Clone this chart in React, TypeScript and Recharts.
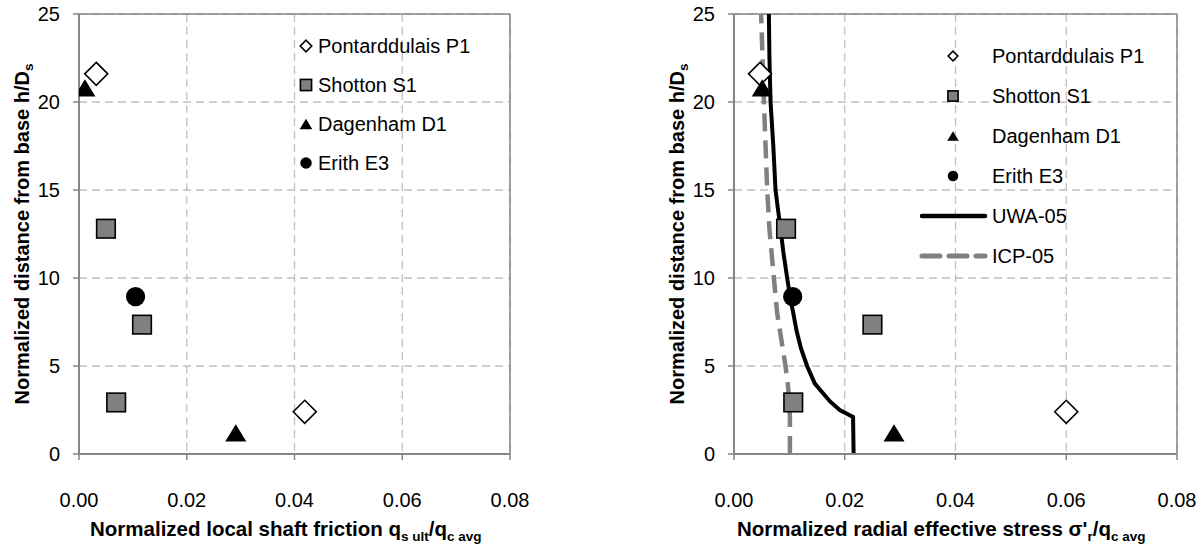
import {
  ComposedChart,
  Scatter,
  Line,
  XAxis,
  YAxis,
  CartesianGrid,
  ReferenceLine,
  Legend,
} from "recharts";

const FONT = "'Liberation Sans', Arial, sans-serif";

const xTicks = [0, 0.02, 0.04, 0.06, 0.08];
const yTicks = [0, 5, 10, 15, 20, 25];

// left panel: normalized local shaft friction
const frictionP1 = [
  { x: 0.0032, y: 21.6 },
  { x: 0.0419, y: 2.4 },
];
const frictionS1 = [
  { x: 0.005, y: 12.8 },
  { x: 0.0117, y: 7.35 },
  { x: 0.0069, y: 2.93 },
];
const frictionD1 = [
  { x: 0.0011, y: 20.8 },
  { x: 0.0291, y: 1.2 },
];
const frictionE3 = [{ x: 0.0105, y: 8.94 }];

// right panel: normalized radial effective stress
const stressP1 = [
  { x: 0.0047, y: 21.6 },
  { x: 0.06, y: 2.4 },
];
const stressS1 = [
  { x: 0.0094, y: 12.8 },
  { x: 0.025, y: 7.35 },
  { x: 0.0107, y: 2.93 },
];
const stressD1 = [
  { x: 0.0051, y: 20.8 },
  { x: 0.0289, y: 1.2 },
];
const stressE3 = [{ x: 0.0106, y: 8.94 }];

const uwa05 = [
  { x: 0.0216, y: 0 },
  { x: 0.0215, y: 2.1 },
  { x: 0.0191, y: 2.5 },
  { x: 0.0173, y: 3 },
  { x: 0.0146, y: 4 },
  { x: 0.0132, y: 5 },
  { x: 0.0121, y: 6 },
  { x: 0.0113, y: 7 },
  { x: 0.0107, y: 8 },
  { x: 0.0101, y: 9 },
  { x: 0.0096, y: 10 },
  { x: 0.0089, y: 11.5 },
  { x: 0.0084, y: 12.8 },
  { x: 0.0079, y: 14 },
  { x: 0.0075, y: 15 },
  { x: 0.0071, y: 17.5 },
  { x: 0.0066, y: 20 },
  { x: 0.0064, y: 22.5 },
  { x: 0.0063, y: 25 },
];
const icp05 = [
  { x: 0.0101, y: 0 },
  { x: 0.0101, y: 2 },
  { x: 0.01, y: 3 },
  { x: 0.0097, y: 4 },
  { x: 0.0093, y: 5 },
  { x: 0.0083, y: 7 },
  { x: 0.0078, y: 8 },
  { x: 0.0072, y: 10 },
  { x: 0.0064, y: 12.8 },
  { x: 0.006, y: 15 },
  { x: 0.0054, y: 20 },
  { x: 0.0049, y: 25 },
];

const siteNames = ["Pontarddulais P1", "Shotton S1", "Dagenham D1", "Erith E3"];
const lineNames = ["UWA-05", "ICP-05"];

const AXIS = "#868686";
const GRID = "#c0c0c0";

// marker drawing, scaled by s
function marker(kind: number, cx: number, cy: number, s: number, key?: string) {
  if (kind === 0) {
    const r = 11.5 * s;
    return (
      <path
        key={key}
        d={`M${cx},${cy - r}L${cx + r},${cy}L${cx},${cy + r}L${cx - r},${cy}Z`}
        fill="#fff"
        stroke="#000"
        strokeWidth={1.6}
      />
    );
  }
  if (kind === 1) {
    const h = 9.3 * s;
    return (
      <rect
        key={key}
        x={cx - h}
        y={cy - h}
        width={2 * h}
        height={2 * h}
        fill="#808080"
        stroke="#000"
        strokeWidth={1.6}
      />
    );
  }
  if (kind === 2) {
    const w = 10.5 * s;
    const h = 8.7 * s;
    return (
      <path
        key={key}
        d={`M${cx},${cy - h}L${cx + w},${cy + h}L${cx - w},${cy + h}Z`}
        fill="#000"
      />
    );
  }
  return <circle key={key} cx={cx} cy={cy} r={9.6 * s} fill="#000" />;
}

const shapeOf = (kind: number) => (p: any) => marker(kind, p.cx, p.cy, 1);

const tickStyle = { fontSize: 20, fill: "#000", fontFamily: FONT };

function LeftLegend() {
  return (
    <svg width={200} height={150} style={{ fontFamily: FONT }}>
      {siteNames.map((name, i) => {
        const y = 16 + i * 39;
        return (
          <g key={name}>
            {marker(i, 10, y, i === 0 ? 0.5 : 0.6)}
            <text x={22} y={y + 7} fontSize={20} fill="#000">
              {name}
            </text>
          </g>
        );
      })}
    </svg>
  );
}

function RightLegend() {
  return (
    <svg width={260} height={240} style={{ fontFamily: FONT }}>
      {siteNames.map((name, i) => {
        const y = 20 + i * 40;
        return (
          <g key={name}>
            {marker(i, 38, y, i === 0 ? 0.42 : 0.55)}
            <text x={77} y={y + 7} fontSize={20} fill="#000">
              {name}
            </text>
          </g>
        );
      })}
      {lineNames.map((name, i) => {
        const y = 180 + i * 40;
        return (
          <g key={name}>
            <line
              x1={7}
              x2={70}
              y1={y}
              y2={y}
              stroke={i === 0 ? "#000" : "#808080"}
              strokeWidth={i === 0 ? 4.5 : 5}
              strokeDasharray={i === 0 ? undefined : "18 9"}
              strokeLinecap="round"
            />
            <text x={77} y={y + 7} fontSize={20} fill="#000">
              {name}
            </text>
          </g>
        );
      })}
    </svg>
  );
}

function Panel(props: {
  width: number;
  left: number;
  yAxisWidth: number;
  sets: { x: number; y: number }[][];
  lines?: boolean;
}) {
  const { width, left, yAxisWidth, sets, lines } = props;
  return (
    <div style={{ position: "absolute", left, top: 0, width, height: 547 }}>
      <ComposedChart
        width={width}
        height={547}
        margin={{ top: 14, right: width - yAxisWidth - (lines ? 443 : 431), left: 0, bottom: 0 }}
      >
        <CartesianGrid stroke={GRID} strokeWidth={1.3} strokeDasharray="8 5" />
        <XAxis
          type="number"
          dataKey="x"
          domain={[0, 0.08]}
          ticks={xTicks}
          allowDataOverflow
          tickFormatter={(v: number) => v.toFixed(2)}
          height={93}
          tick={tickStyle}
          tickSize={6}
          tickMargin={33}
          stroke={AXIS}
          axisLine={{ stroke: AXIS, strokeWidth: 2 }}
          tickLine={{ stroke: AXIS, strokeWidth: 1.5 }}
        />
        <YAxis
          type="number"
          dataKey="y"
          domain={[0, 25]}
          ticks={yTicks}
          allowDataOverflow
          width={yAxisWidth}
          tick={tickStyle}
          tickSize={6}
          tickMargin={13}
          stroke={AXIS}
          axisLine={{ stroke: AXIS, strokeWidth: 2 }}
          tickLine={{ stroke: AXIS, strokeWidth: 1.5 }}
        />
        <ReferenceLine y={25} stroke={AXIS} strokeWidth={1.5} />
        <ReferenceLine x={0.08} stroke={AXIS} strokeWidth={1.5} />
        {lines && (
          <Line
            data={icp05}
            dataKey="y"
            name="ICP-05"
            type="linear"
            stroke="#808080"
            strokeWidth={4.5}
            strokeDasharray="18 9"
            dot={false}
            activeDot={false}
            isAnimationActive={false}
          />
        )}
        {lines && (
          <Line
            data={uwa05}
            dataKey="y"
            name="UWA-05"
            type="linear"
            stroke="#000"
            strokeWidth={4}
            dot={false}
            activeDot={false}
            isAnimationActive={false}
          />
        )}
        {sets.map((d, i) => (
          <Scatter
            key={siteNames[i]}
            name={siteNames[i]}
            data={d}
            dataKey="y"
            shape={shapeOf(i)}
            isAnimationActive={false}
          />
        ))}
        <Legend
          layout="vertical"
          align="center"
          verticalAlign="middle"
          wrapperStyle={
            lines
              ? { top: 36, left: 315, width: 260, height: 240 }
              : { top: 30, left: 296, width: 200, height: 150 }
          }
          content={lines ? <RightLegend /> : <LeftLegend />}
        />
      </ComposedChart>
    </div>
  );
}

export default function App() {
  const sub = { fontSize: 13.5 };
  return (
    <div
      style={{
        position: "absolute",
        left: 0,
        top: 0,
        width: 1202,
        height: 547,
        background: "#fff",
        fontFamily: FONT,
      }}
    >
      <Panel
        width={600}
        left={0}
        yAxisWidth={79}
        sets={[frictionP1, frictionS1, frictionD1, frictionE3]}
      />
      <Panel
        width={602}
        left={600}
        yAxisWidth={134}
        sets={[stressP1, stressS1, stressD1, stressE3]}
        lines
      />
      <svg
        width={1202}
        height={547}
        style={{ position: "absolute", left: 0, top: 0, pointerEvents: "none", fontFamily: FONT }}
      >
        <text transform="translate(29,234) rotate(-90)" textAnchor="middle" fontSize={20} fontWeight="bold">
          Normalized distance from base h/D
          <tspan style={sub} dy={4}>s</tspan>
        </text>
        <text transform="translate(684,234) rotate(-90)" textAnchor="middle" fontSize={20} fontWeight="bold">
          Normalized distance from base h/D
          <tspan style={sub} dy={4}>s</tspan>
        </text>
        <text x={90} y={536} fontSize={20.5} fontWeight="bold">
          Normalized local shaft friction q
          <tspan style={sub} dy={5}>s ult</tspan>
          <tspan dy={-5}>/q</tspan>
          <tspan style={sub} dy={5}>c avg</tspan>
        </text>
        <text x={737} y={536} fontSize={20.5} fontWeight="bold">
          Normalized radial effective stress σ'
          <tspan style={sub} dy={5}>r</tspan>
          <tspan dy={-5}>/q</tspan>
          <tspan style={sub} dy={5}>c avg</tspan>
        </text>
      </svg>
    </div>
  );
}
